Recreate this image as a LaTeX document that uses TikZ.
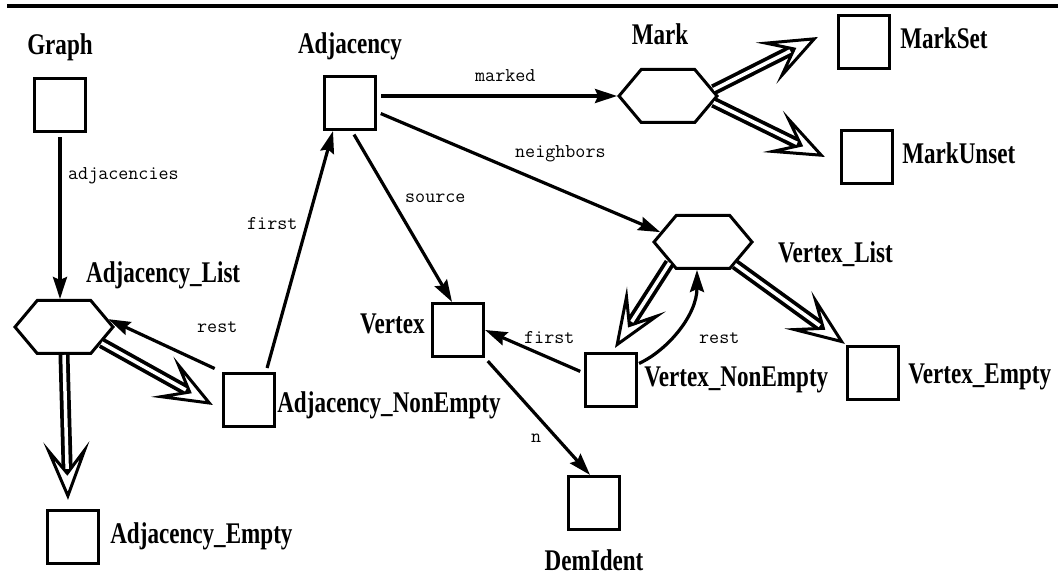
\documentclass[tikz,border=0pt]{standalone}
\usepackage{fontspec}
\newfontfamily\lblfont{Liberation Serif}[FakeStretch=0.77]
\usetikzlibrary{shapes.symbols,arrows.meta,positioning}

\begin{document}
\begin{tikzpicture}[
    x=1pt, y=-1pt,
    box/.style  = {draw, line width=3.2pt, minimum width=51pt, minimum height=53pt, inner sep=0pt},
    hexa/.style = {signal, signal to=west and east, signal pointer angle=100, draw,
                   line width=3pt, minimum width=98pt, minimum height=53pt, inner sep=0pt},
    lbl/.style  = {font=\lblfont\bfseries\fontsize{30}{30}\selectfont, inner sep=0pt,
                   text height=20pt, text depth=7pt},
    rel/.style  = {font=\ttfamily\fontsize{19.5}{19.5}\selectfont, inner sep=0pt, anchor=base west},
    arr/.style  = {-{Stealth[length=22pt, width=14pt, inset=3pt]}, line width=3.2pt, shorten <=4pt},
    inh/.style  = {-{Stealth[length=58pt, width=46pt, inset=29pt, line width=3pt, fill=white]},
                   line width=11pt, postaction={draw=white, line width=3.5pt, -, shorten >=31pt}},
  ]
    \useasboundingbox (0,0) rectangle (1058,577);
    \draw[line width=3.5pt] (7,6) -- (1058,6);

    \node[box]  (graph)     at (60,105)  {};
    \node[box]  (adj)       at (350,103) {};
    \node[hexa] (mark)      at (668,96)  {};
    \node[box]  (markset)   at (864,42)  {};
    \node[box]  (markunset) at (867,157) {};
    \node[hexa] (vlist)     at (703,242) {};
    \node[box]  (vne)       at (611,380) {};
    \node[box]  (vempty)    at (873,373) {};
    \node[box]  (vertex)    at (458,330) {};
    \node[box]  (demident)  at (594,503) {};
    \node[hexa] (alist)     at (64,327)  {};
    \node[box]  (ane)       at (249,400) {};
    \node[box]  (aempty)    at (73,537)  {};

    \node[lbl, above=15pt of graph]              (graphlbl)     {Graph};
    \node[lbl, above=14pt of adj]                (adjlbl)       {Adjacency};
    \node[lbl, above=16pt of mark, xshift=-8pt]  (marklbl)      {Mark};
    \node[lbl, right=9pt of markset]             (marksetlbl)   {MarkSet};
    \node[lbl, right=8pt of markunset]           (markunsetlbl) {MarkUnset};
    \node[lbl, right=24pt of vlist, yshift=-14pt](vlistlbl)     {Vertex\_List};
    \node[lbl, right=6pt of vne]                 (vnelbl)       {Vertex\_NonEmpty};
    \node[lbl, right=8pt of vempty, yshift=-4pt] (vemptylbl)    {Vertex\_Empty};
    \node[lbl, left=6pt of vertex, yshift=3pt]   (vertexlbl)    {Vertex};
    \node[lbl, text depth=0pt, below=19pt of demident] (demidentlbl) {DemIdent};
    \node[lbl, right=1pt of ane, yshift=-6pt]    (anelbl)       {Adjacency\_NonEmpty};
    \node[lbl, anchor=base west] at (86,283)     (alistlbl)     {Adjacency\_List};
    \node[lbl, right=10pt of aempty]             (aemptylbl)    {Adjacency\_Empty};

    \node[rel] (adjacencies) at (68,180)  {adjacencies};
    \node[rel] (afirst)      at (247,230) {first};
    \node[rel] (source)      at (405,203) {source};
    \node[rel] (marked)      at (475,82)  {marked};
    \node[rel] (neighbors)   at (515,158) {neighbors};
    \node[rel] (arest)       at (197,333) {rest};
    \node[rel] (vrest)       at (699,344) {rest};
    \node[rel] (vfirst)      at (524,344) {first};
    \node[rel] (nlbl)        at (531,442) {n};

    \draw[arr] (graph.south) -- (graph.south |- alist.north);
    \draw[arr] ([xshift=17pt]ane.north) -- ([xshift=-17pt]adj.south);
    \draw[arr] ([xshift=2pt]adj.south) -- ([xshift=-6pt]vertex.north);
    \draw[arr] (adj.east |- mark.west) -- (mark.west);
    \draw[arr] ([yshift=-9pt]adj.east) -- (vlist.167);
    \draw[arr, shorten <=1pt] ([yshift=-12pt]vne.north east)
        .. controls +(30,-14) and +(0,45) .. ([xshift=-6pt]vlist.south);
    \draw[arr] ([yshift=7pt]vne.west) -- (vertex.east);
    \draw[arr] (vertex.south east) -- ([xshift=-4pt]demident.north);
    \draw[arr, shorten <=8pt] (ane.north west) -- (alist.10);

    \draw[inh] (alist.south) -- ([xshift=-5pt,yshift=9pt]aempty.north);
    \draw[inh] (alist.-23) -- ([xshift=-9pt,yshift=-5pt]ane.west);
    \draw[inh] (mark.8) -- ([xshift=-19pt,yshift=5pt]markset.west);
    \draw[inh] (mark.-8) -- ([xshift=-15pt]markunset.west);
    \draw[inh] (vlist.212) -- ([xshift=4pt,yshift=4pt]vne.north);
    \draw[inh] (vlist.-35) -- ([xshift=-1pt,yshift=1pt]vempty.north west);
  \end{tikzpicture}
\end{document}
